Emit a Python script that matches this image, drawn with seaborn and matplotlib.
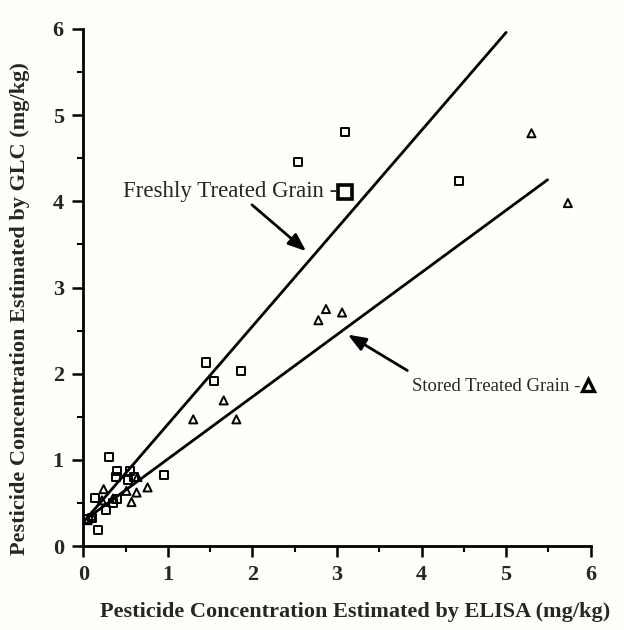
import matplotlib
matplotlib.use("Agg")
import matplotlib.pyplot as plt
import seaborn as sns
import pandas as pd
from matplotlib.ticker import MultipleLocator

# ---- data ----
fresh_x = [3.10, 2.54, 4.44, 1.45, 1.87, 1.55, 0.30, 0.40, 0.39, 0.55, 0.53, 0.95,
           0.14, 0.35, 0.27, 0.17, 0.10, 0.06, 0.40, 0.60]
fresh_y = [4.80, 4.46, 4.24, 2.13, 2.03, 1.91, 1.03, 0.87, 0.80, 0.87, 0.77, 0.82,
           0.56, 0.50, 0.42, 0.19, 0.33, 0.31, 0.55, 0.80]
stored_x = [5.30, 5.73, 2.87, 3.06, 2.78, 1.66, 1.30, 1.81, 0.24, 0.51, 0.63, 0.76,
            0.57, 0.22, 0.35, 0.10, 0.05, 0.64]
stored_y = [4.79, 3.98, 2.75, 2.71, 2.62, 1.69, 1.47, 1.47, 0.66, 0.64, 0.62, 0.68,
            0.51, 0.53, 0.55, 0.35, 0.30, 0.80]
fresh_line_x = [0.03, 5.00]
fresh_line_y = [0.31, 5.96]
stored_line_x = [0.03, 5.49]
stored_line_y = [0.31, 4.25]
groups = ["Freshly Treated Grain", "Stored Treated Grain"]
x_ticks = [0, 1, 2, 3, 4, 5, 6]
y_ticks = [0, 1, 2, 3, 4, 5, 6]
x_label = "Pesticide Concentration Estimated by ELISA (mg/kg)"
y_label = "Pesticide Concentration Estimated by GLC (mg/kg)"

df = pd.DataFrame({
    "x": fresh_x + stored_x,
    "y": fresh_y + stored_y,
    "g": [groups[0]] * len(fresh_x) + [groups[1]] * len(stored_x),
})

sns.set_theme(style="ticks")
plt.rcParams["font.family"] = ["Liberation Serif", "DejaVu Serif"]

bg = "#fefefb"
fig = plt.figure(figsize=(6.24, 6.30), dpi=100, facecolor=bg)
ax = fig.add_axes([0.1335, 0.1333, 0.8131, 0.8207])
ax.set_facecolor(bg)

sns.scatterplot(data=df, x="x", y="y", style="g", markers={groups[0]: "s", groups[1]: "^"},
                color="none", edgecolor="black", linewidth=1.4, s=34, legend=False, ax=ax)
for coll in ax.collections:
    coll.set_facecolor("none")
    coll.set_edgecolor("black")

sns.lineplot(x=fresh_line_x, y=fresh_line_y, color="black", lw=2.0, ax=ax)
sns.lineplot(x=stored_line_x, y=stored_line_y, color="black", lw=2.0, ax=ax)

ax.set_xlim(0, 6)
ax.set_ylim(0, 6)
ax.set_xticks(x_ticks)
ax.set_yticks(y_ticks)
ax.xaxis.set_minor_locator(MultipleLocator(0.5))
ax.yaxis.set_minor_locator(MultipleLocator(0.5))
ax.tick_params(which="major", length=8, width=1.8, color="black", labelsize=16, pad=6)
ax.tick_params(which="minor", length=4, width=1.5, color="black")
for lab in ax.get_xticklabels() + ax.get_yticklabels():
    lab.set_fontweight("bold")
sns.despine(ax=ax)
for s in ["left", "bottom"]:
    ax.spines[s].set_linewidth(2.0)
    ax.spines[s].set_color("black")

ax.set_xlabel(x_label, fontsize=16, fontweight="bold")
ax.set_ylabel(y_label, fontsize=16, fontweight="bold")
ax.xaxis.set_label_coords(0.535, -0.108)
ax.yaxis.set_label_coords(-0.105, 0.46)

# annotations
ax.text(3.00, 4.11, groups[0] + " -", fontsize=16.5, ha="right", va="center")
ax.plot([3.10], [4.11], marker="s", ms=10, mfc="none", mec="black", mew=2.6, clip_on=False)
ax.annotate("", xy=(2.66, 3.40), xytext=(1.97, 3.98),
            arrowprops=dict(arrowstyle="-|>,head_length=0.9,head_width=0.35", lw=2, color="black"))

ax.text(5.88, 1.85, groups[1] + " -", fontsize=13.5, ha="right", va="center")
ax.plot([5.97], [1.87], marker="^", ms=9, mfc="none", mec="black", mew=2.4, clip_on=False)
ax.annotate("", xy=(3.10, 2.47), xytext=(3.86, 2.02),
            arrowprops=dict(arrowstyle="-|>,head_length=0.9,head_width=0.35", lw=2, color="black"))

fig.savefig("out.png", dpi=100, facecolor=bg)
